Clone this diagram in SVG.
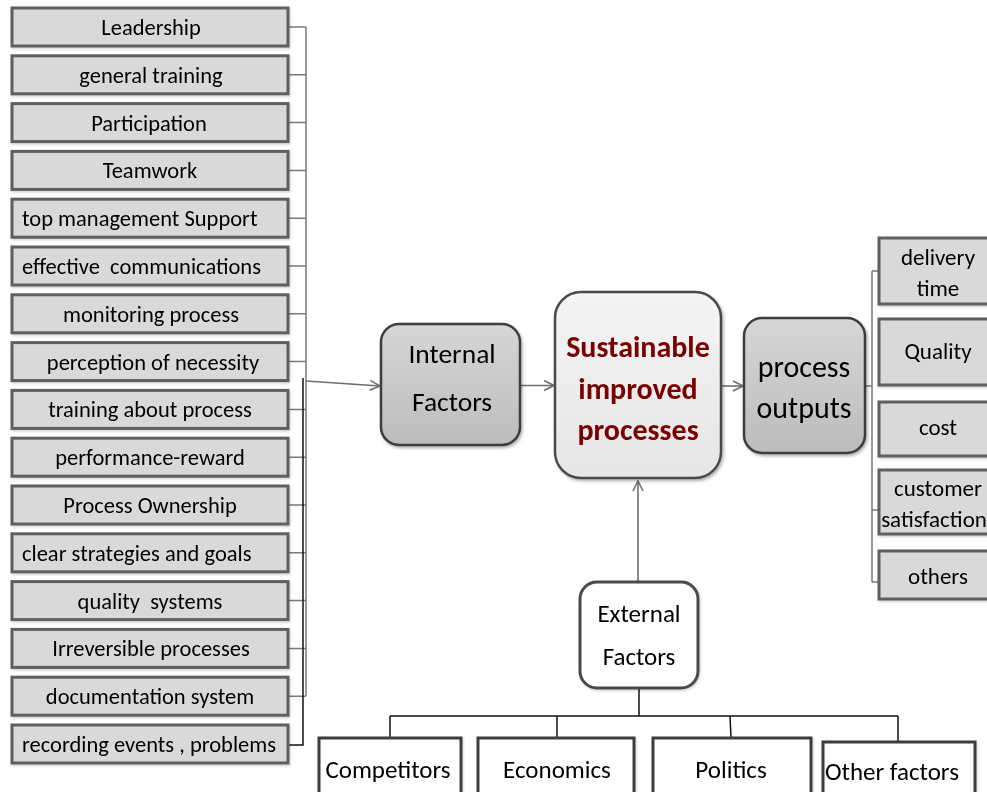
<svg xmlns="http://www.w3.org/2000/svg" width="987" height="792" viewBox="0 0 987 792">
  <style>
    text { font-family: Carlito, Lato, "Liberation Sans", sans-serif; fill: #000; }
    .lbox rect { fill: #d9d9d9; stroke: #5e5e5e; stroke-width: 3; }
    .lbox text { font-size: 22.5px; text-anchor: middle; white-space: pre; }
    .lbox text.l { text-anchor: start; }
    .rbox rect { fill: #d9d9d9; stroke: #5e5e5e; stroke-width: 3; }
    .rbox text { font-size: 23px; text-anchor: middle; }
    .bbox rect { fill: #fff; stroke: #3c3c3c; stroke-width: 3; }
    .bbox text { font-size: 25px; text-anchor: middle; }
    .bbox text.l { text-anchor: start; }
    .grey { stroke: #7a7a7a; stroke-width: 1.5; fill: none; }
    .blk { stroke: #111; stroke-width: 1.5; fill: none; }
    .arr { stroke: #6e6e6e; stroke-width: 1.6; fill: none; marker-end: url(#chev); }
    .mid text { text-anchor: middle; }
  </style>
  <defs>
    <marker id="chev" viewBox="0 0 12 12" refX="11" refY="6" markerWidth="12" markerHeight="12" markerUnits="userSpaceOnUse" orient="auto">
      <path d="M1,1 L11,6 L1,11" fill="none" stroke="#6e6e6e" stroke-width="1.6"/>
    </marker>
    <linearGradient id="greyFill" x1="0" y1="0" x2="0" y2="1">
      <stop offset="0" stop-color="#d6d6d6"/>
      <stop offset="1" stop-color="#bcbcbc"/>
    </linearGradient>
    <linearGradient id="lightFill" x1="0" y1="0" x2="0" y2="1">
      <stop offset="0" stop-color="#f4f4f4"/>
      <stop offset="1" stop-color="#e6e6e6"/>
    </linearGradient>
    <filter id="shadow" x="-10%" y="-10%" width="125%" height="130%">
      <feDropShadow dx="1.5" dy="2" stdDeviation="1.5" flood-color="#000" flood-opacity="0.3"/>
    </filter>
    <filter id="softShadow" x="-5%" y="-10%" width="115%" height="140%">
      <feDropShadow dx="1" dy="1.5" stdDeviation="1" flood-color="#000" flood-opacity="0.18"/>
    </filter>
  </defs>

  <!-- connectors -->
  <g id="connectors">
    <!-- grey bracket gathering the left-hand factors -->
    <path class="grey" d="M306,27 V696.2
      M289,27 H306 M289,74.8 H306 M289,122.6 H306 M289,170.4 H306 M289,218.2 H306
      M289,266 H306 M289,313.8 H306 M289,361.6 H306 M289,409.4 H306 M289,457.2 H306
      M289,505 H306 M289,552.8 H306 M289,600.6 H306 M289,648.4 H306 M289,696.2 H306"/>
    <!-- black bracket for the last factor -->
    <path class="blk" d="M303,378 V745 H289"/>
    <!-- main flow arrows -->
    <path class="arr" d="M306,381 L380,386"/>
    <path class="arr" d="M520,385.5 H554"/>
    <path class="arr" d="M722,386 H743"/>
    <path class="arr" d="M638,582 V481"/>
    <!-- outputs bracket -->
    <path class="grey" d="M865,386 H872 M872,271 V582 M872,271 H879 M872,510 H879 M872,582 H879"/>
    <!-- external factors tree -->
    <path class="blk" d="M639,688 V716 M390,716 H898 M390,716 V738 M557,716 V738 M730,716 L731,738 M898,716 V742"/>
  </g>

  <!-- left-hand factors -->
  <g class="lbox" filter="url(#softShadow)">
    <g id="n-leadership"><rect x="12" y="8" width="276" height="38"/><text x="151" y="35">Leadership</text></g>
    <g id="n-general-training"><rect x="12" y="55.8" width="276" height="38"/><text x="151" y="82.8">general training</text></g>
    <g id="n-participation"><rect x="12" y="103.6" width="276" height="38"/><text x="149" y="130.6">Participation</text></g>
    <g id="n-teamwork"><rect x="12" y="151.4" width="276" height="38"/><text x="150" y="178.4">Teamwork</text></g>
    <g id="n-top-management"><rect x="12" y="199.2" width="276" height="38"/><text class="l" x="22" y="226.2">top management Support</text></g>
    <g id="n-communications"><rect x="12" y="247" width="276" height="38"/><text class="l" x="22" y="274">effective  communications</text></g>
    <g id="n-monitoring"><rect x="12" y="294.8" width="276" height="38"/><text x="151" y="321.8">monitoring process</text></g>
    <g id="n-perception"><rect x="12" y="342.6" width="276" height="38"/><text x="153" y="369.6">perception of necessity</text></g>
    <g id="n-training-process"><rect x="12" y="390.4" width="276" height="38"/><text x="150" y="417.4">training about process</text></g>
    <g id="n-performance"><rect x="12" y="438.2" width="276" height="38"/><text x="150" y="465.2">performance-reward</text></g>
    <g id="n-ownership"><rect x="12" y="486" width="276" height="38"/><text x="150" y="513">Process Ownership</text></g>
    <g id="n-strategies"><rect x="12" y="533.8" width="276" height="38"/><text class="l" x="22" y="560.8">clear strategies and goals</text></g>
    <g id="n-quality-systems"><rect x="12" y="581.6" width="276" height="38"/><text x="150" y="608.6">quality  systems</text></g>
    <g id="n-irreversible"><rect x="12" y="629.4" width="276" height="38"/><text x="151" y="656.4">Irreversible processes</text></g>
    <g id="n-documentation"><rect x="12" y="677.2" width="276" height="38"/><text x="150" y="704.2">documentation system</text></g>
    <g id="n-recording"><rect x="12" y="725" width="276" height="38"/><text class="l" x="22" y="752">recording events , problems</text></g>
  </g>

  <!-- central flow -->
  <g id="n-internal" class="mid" filter="url(#shadow)">
    <rect x="381" y="324" width="139" height="121" rx="18" fill="url(#greyFill)" stroke="#3e3e3e" stroke-width="2.5"/>
    <text x="452" y="363" font-size="27.5">Internal</text>
    <text x="452" y="411" font-size="27.5">Factors</text>
  </g>
  <g id="n-sustainable" class="mid" filter="url(#shadow)">
    <rect x="555" y="292" width="166" height="186" rx="26" fill="url(#lightFill)" stroke="#4a4a4a" stroke-width="2.5"/>
    <text x="638" y="357" font-size="30" font-weight="bold" style="fill:#7a0000">Sustainable</text>
    <text x="638" y="399" font-size="30" font-weight="bold" style="fill:#7a0000">improved</text>
    <text x="638" y="440" font-size="30" font-weight="bold" style="fill:#7a0000">processes</text>
  </g>
  <g id="n-outputs" class="mid" filter="url(#shadow)">
    <rect x="744" y="318" width="121" height="135" rx="18" fill="url(#greyFill)" stroke="#3e3e3e" stroke-width="2.5"/>
    <text x="804" y="377" font-size="30">process</text>
    <text x="804" y="418" font-size="30">outputs</text>
  </g>
  <g id="n-external" class="mid" filter="url(#softShadow)">
    <rect x="580" y="582" width="118" height="106" rx="17" fill="#fff" stroke="#4a4a4a" stroke-width="3"/>
    <text x="639" y="622" font-size="25">External</text>
    <text x="639" y="665" font-size="25">Factors</text>
  </g>

  <!-- process outputs -->
  <g class="rbox" filter="url(#softShadow)">
    <g id="n-delivery"><rect x="879" y="238" width="112" height="66"/><text x="938" y="265">delivery</text><text x="938" y="296">time</text></g>
    <g id="n-quality"><rect x="879" y="319" width="112" height="66"/><text x="938" y="359">Quality</text></g>
    <g id="n-cost"><rect x="879" y="402" width="112" height="54"/><text x="938" y="435">cost</text></g>
    <g id="n-customer"><rect x="879" y="470" width="112" height="64"/><text x="938" y="496">customer</text><text x="934" y="527">satisfaction</text></g>
    <g id="n-others"><rect x="879" y="551" width="112" height="48"/><text x="938" y="584">others</text></g>
  </g>

  <!-- external factors -->
  <g class="bbox" filter="url(#softShadow)">
    <g id="n-competitors"><rect x="319" y="738" width="142" height="70"/><text x="388" y="778">Competitors</text></g>
    <g id="n-economics"><rect x="478" y="738" width="156" height="70"/><text x="557" y="778">Economics</text></g>
    <g id="n-politics"><rect x="653" y="738" width="158" height="70"/><text x="731" y="778">Politics</text></g>
    <g id="n-other-factors"><rect x="823" y="742" width="152" height="70"/><text class="l" x="825" y="780">Other factors</text></g>
  </g>
</svg>
